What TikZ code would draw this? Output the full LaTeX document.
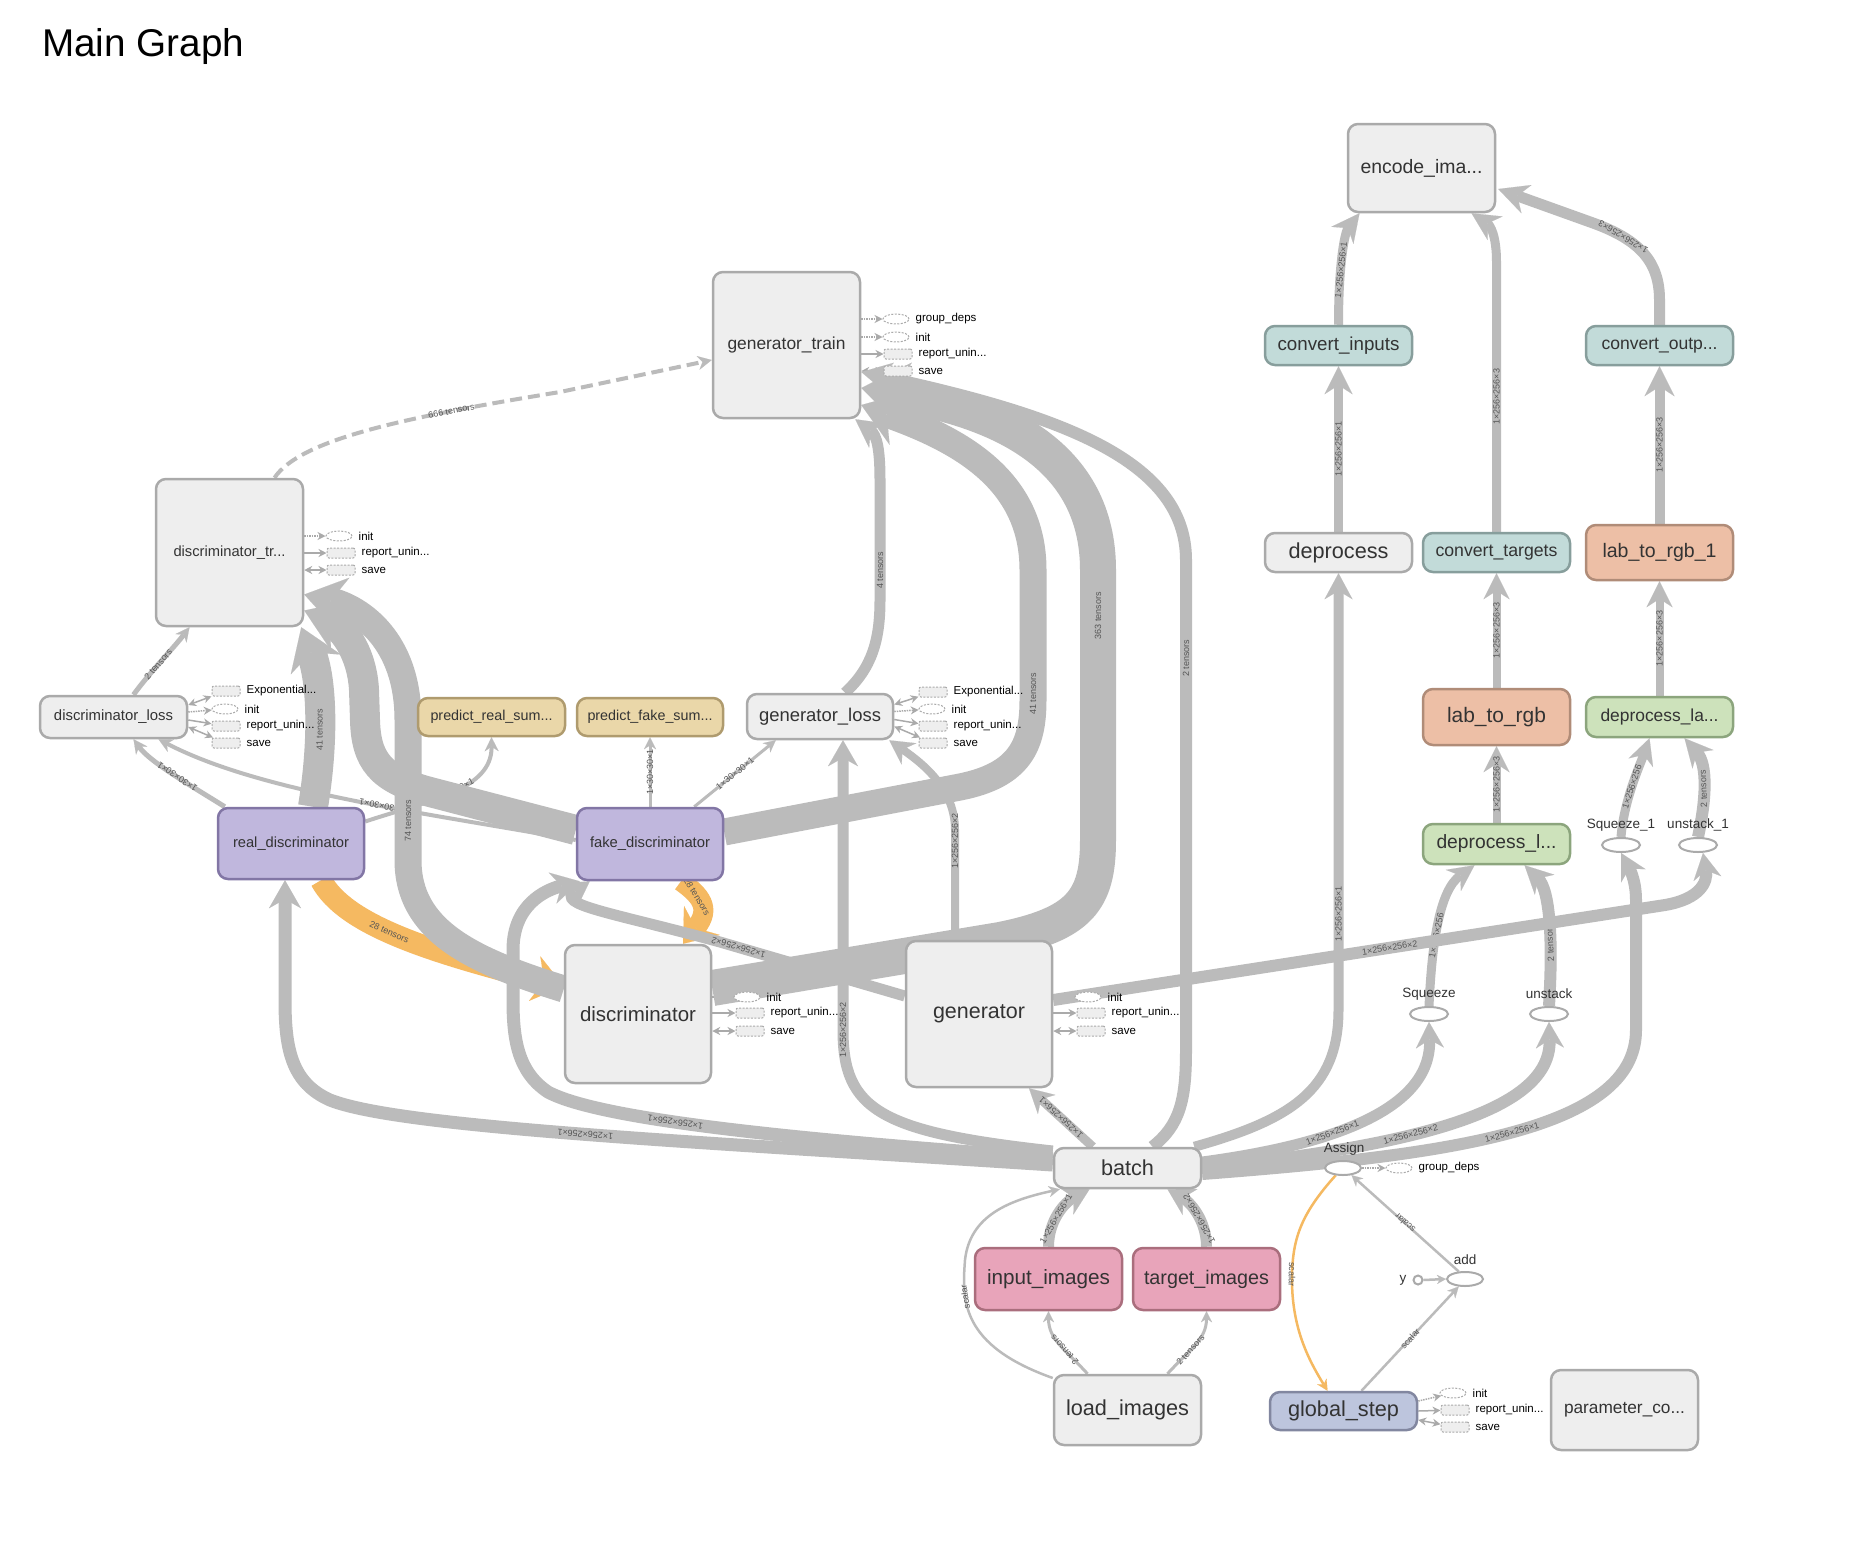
\documentclass[tikz,border=0pt]{standalone}
\usepackage{fontspec}
\setmainfont{Liberation Sans}
\usepackage{graphicx}
\usetikzlibrary{arrows.meta,shapes.geometric,calc}
\pgfdeclarelayer{bgzero}
\pgfdeclarelayer{edges}
\pgfsetlayers{bgzero,edges,main}
\definecolor{gfill}{HTML}{EEEEEE}
\definecolor{gdraw}{HTML}{AAAAAA}
\definecolor{tfill}{HTML}{C2DBD9}
\definecolor{tdraw}{HTML}{879E9C}
\definecolor{sfill}{HTML}{EDBFA6}
\definecolor{sdraw}{HTML}{B08C78}
\definecolor{grfill}{HTML}{CDE2BB}
\definecolor{grdraw}{HTML}{8CA57D}
\definecolor{tanfill}{HTML}{EAD7A9}
\definecolor{tandraw}{HTML}{AF9B6E}
\definecolor{pfill}{HTML}{C0B7DD}
\definecolor{pdraw}{HTML}{8276A5}
\definecolor{pkfill}{HTML}{E8A4BA}
\definecolor{pkdraw}{HTML}{AA6E7D}
\definecolor{bfill}{HTML}{BDC5DD}
\definecolor{bdraw}{HTML}{8287A0}
\definecolor{edgec}{HTML}{BBBBBB}
\definecolor{orng}{HTML}{F5B961}
\definecolor{labc}{HTML}{555555}
\definecolor{txt}{HTML}{333333}
\newcommand\fw[2]{\resizebox{#1pt}{!}{#2}}
\newcommand\auxrow[5]{\node[#2] (#1) at (#3,#4) {};\node[auxl] at ($(#1.east)+(6,0)$) {#5};}
\begin{document}
\begin{tikzpicture}[x=1pt,y=-1pt,
 nb/.style={rounded corners=10pt, line width=2.5pt, inner sep=0pt, text=txt},
 gbox/.style={nb, draw=gdraw, fill=gfill},
 tbox/.style={nb, draw=tdraw, fill=tfill},
 sbox/.style={nb, draw=sdraw, fill=sfill},
 grbox/.style={nb, draw=grdraw, fill=grfill},
 tanbox/.style={nb, draw=tandraw, fill=tanfill},
 pbox/.style={nb, draw=pdraw, fill=pfill},
 pkbox/.style={nb, draw=pkdraw, fill=pkfill},
 bbox/.style={nb, draw=bdraw, fill=bfill},
 sz/.style 2 args={minimum width=#1pt, minimum height=#2pt},
 opn/.style={ellipse, draw=gdraw, fill=white, line width=2pt, minimum width=38pt, minimum height=14pt, inner sep=0pt},
 oplab/.style={font=\fontsize{13.5}{14}\selectfont, text=txt},
 ed/.style={draw=edgec, line width=#1},
 ah/.style 2 args={-{Stealth[length=#1pt, width=#2pt, line width=0.1pt]}},
 lab/.style={font=\fontsize{9}{9}\selectfont, text=labc, sloped, allow upside down, inner sep=0.5pt},
 auxr/.style={draw=gdraw, fill=gfill, dash pattern=on 2pt off 1.5pt, line width=1pt, minimum width=28pt, minimum height=10pt, inner sep=0pt, rounded corners=2pt},
 auxe/.style={ellipse, draw=gdraw, fill=white, dash pattern=on 2pt off 1.5pt, line width=1pt, minimum width=26pt, minimum height=10pt, inner sep=0pt},
 auxl/.style={anchor=west, font=\fontsize{11.5}{12}\selectfont, text=black, inner sep=0pt},
 axa/.style={draw=gdraw, line width=1.5pt, -{Stealth[length=8pt, width=8pt]}},
 axd/.style={axa, densely dotted},
 axs/.style={draw=gdraw, line width=1.5pt, {Stealth[length=8pt, width=8pt]}-{Stealth[length=8pt, width=8pt]}},
]
\useasboundingbox (0,0) rectangle (1866,1550);
\begin{pgfonlayer}{bgzero}
\fill[white] (0,0) rectangle (1866,1550);
\end{pgfonlayer}

% title
\node[anchor=base west, inner sep=0pt, text=black] (title) at (42,56) {\fw{202}{Main Graph}};

% ---------- nodes ----------
\node[gbox, sz={147}{88}] (enc) at (1421.5,168) {\fw{122}{encode\_ima...}};
\node[tbox, sz={147}{39}] (cin) at (1338.5,345.5) {\fw{122}{convert\_inputs}};
\node[tbox, sz={147}{39}] (cout) at (1659.5,345.5) {\fw{116}{convert\_outp...}};
\node[gbox, sz={147}{39}] (dep) at (1338.5,552.5) {\fw{100}{deprocess}};
\node[tbox, sz={147}{39}] (ctg) at (1496.5,552.5) {\fw{122}{convert\_targets}};
\node[sbox, sz={147}{55}] (l2r1) at (1659.5,552.5) {\fw{114}{lab\_to\_rgb\_1}};
\node[sbox, sz={147}{56}] (l2r) at (1496.5,717) {\fw{99}{lab\_to\_rgb}};
\node[grbox, sz={147}{40}] (dla) at (1659.5,717) {\fw{118}{deprocess\_la...}};
\node[grbox, sz={147}{40}] (dl) at (1496.5,844) {\fw{120}{deprocess\_l...}};
\node[opn] (sq1) at (1621,845) {}; \node[oplab] at (1621,825) {Squeeze\_1};
\node[opn] (us1) at (1698,845) {}; \node[oplab] at (1698,825) {unstack\_1};
\node[opn] (sq) at (1429,1014) {}; \node[oplab] at (1429,994) {Squeeze};
\node[opn] (us) at (1549,1014) {}; \node[oplab] at (1549,994) {unstack};
\node[gbox, sz={147}{40}] (batch) at (1127.5,1168) {\fw{53}{batch}};
\node[pkbox, sz={147}{62}] (inimg) at (1048.5,1279) {\fw{123}{input\_images}};
\node[pkbox, sz={147}{62}] (tgimg) at (1206.5,1279) {\fw{125}{target\_images}};
\node[gbox, sz={147}{70}] (load) at (1127.5,1410) {\fw{123}{load\_images}};
\node[opn, minimum width=36pt] (assign) at (1343,1168) {}; \node[oplab] at (1344,1149) {Assign};
\node[opn, minimum width=36pt] (add) at (1465,1279) {}; \node[oplab] at (1465,1260) {add};
\node[circle, draw=gdraw, fill=white, line width=2pt, minimum size=9pt, inner sep=0pt] (yc) at (1418,1280) {};
\node[oplab, anchor=east] at (1410,1280) {y};
\node[bbox, sz={147}{38}] (gstep) at (1343.5,1411) {\fw{111}{global\_step}};
\node[gbox, sz={147}{80}] (param) at (1624.5,1410) {\fw{121}{parameter\_co...}};
\node[gbox, sz={147}{147}] (dtr) at (229.5,552.5) {\fw{112}{discriminator\_tr...}};
\node[gbox, sz={147}{42}] (dloss) at (113.5,717) {\fw{119}{discriminator\_loss}};
\node[tanbox, sz={147}{38}] (preal) at (491.5,717) {\fw{122}{predict\_real\_sum...}};
\node[tanbox, sz={146}{38}] (pfake) at (650,717) {\fw{125}{predict\_fake\_sum...}};
\node[pbox, sz={146}{71}] (rdisc) at (291,843.5) {\fw{116}{real\_discriminator}};
\node[pbox, sz={146}{72}] (fdisc) at (650,844) {\fw{120}{fake\_discriminator}};
\node[gbox, sz={146}{45}] (gloss) at (820,716.5) {\fw{122}{generator\_loss}};
\node[gbox, sz={147}{146}] (gtrain) at (786.5,345) {\fw{118}{generator\_train}};
\node[gbox, sz={146}{138}] (disc) at (638,1014) {\fw{116}{discriminator}};
\node[gbox, sz={146}{146}] (gen) at (979,1014) {\fw{92}{generator}};

% ---------- auxiliary nodes ----------
\auxrow{dtr-i}{auxe}{339}{536}{init}
\auxrow{dtr-r}{auxr}{341}{553}{report\_unin...}
\auxrow{dtr-s}{auxr}{341}{570}{save}
\auxrow{dl-e}{auxr}{226}{691}{Exponential...}
\auxrow{dl-i}{auxe}{225}{709}{init}
\auxrow{dl-r}{auxr}{226}{726}{report\_unin...}
\auxrow{dl-s}{auxr}{226}{743}{save}
\auxrow{gl-e}{auxr}{933}{692}{Exponential...}
\auxrow{gl-i}{auxe}{932}{709}{init}
\auxrow{gl-r}{auxr}{933}{726}{report\_unin...}
\auxrow{gl-s}{auxr}{933}{743}{save}
\auxrow{gt-g}{auxe}{896}{319}{group\_deps}
\auxrow{gt-i}{auxe}{896}{337}{init}
\auxrow{gt-r}{auxr}{898}{354}{report\_unin...}
\auxrow{gt-s}{auxr}{898}{371}{save}
\auxrow{di-i}{auxe}{747}{997}{init}
\auxrow{di-r}{auxr}{750}{1013}{report\_unin...}
\auxrow{di-s}{auxr}{750}{1031}{save}
\auxrow{ge-i}{auxe}{1088}{997}{init}
\auxrow{ge-r}{auxr}{1091}{1013}{report\_unin...}
\auxrow{ge-s}{auxr}{1091}{1031}{save}
\auxrow{gs-i}{auxe}{1453}{1393}{init}
\auxrow{gs-r}{auxr}{1455}{1410}{report\_unin...}
\auxrow{gs-s}{auxr}{1455}{1427}{save}
\auxrow{as-g}{auxe}{1399}{1168}{group\_deps}

\begin{pgfonlayer}{edges}
% orange reference edges first (gray bands pass over them)
\draw[draw=orng, line width=22pt, ah={30}{46}] ($(rdisc.south)+(30,0)$) .. controls (345,925) and (430,952) .. ($(disc.west)+(0,-28)$) node[lab,pos=0.45]{28 tensors};
\draw[draw=orng, line width=20pt, ah={30}{46}] ($(fdisc.south)+(31,0)$) .. controls (700,895) and (712,908) .. ($(disc.north)+(45,0)$) node[lab,pos=0.35]{28 tensors};

% aux edges
\draw[axd] (dtr.east |- dtr-i) -- (dtr-i);
\draw[axa] (dtr.east |- dtr-r) -- (dtr-r);
\draw[axs] (dtr.east |- dtr-s) -- (dtr-s);
\draw[axs] ($(dloss.east)+(0,-12)$) -- (dl-e);
\draw[axd] ($(dloss.east)+(0,-5)$) -- (dl-i);
\draw[axa] ($(dloss.east)+(0,3)$) -- (dl-r);
\draw[axs] ($(dloss.east)+(0,10)$) -- (dl-s);
\draw[axs] ($(gloss.east)+(0,-12)$) -- (gl-e);
\draw[axd] ($(gloss.east)+(0,-5)$) -- (gl-i);
\draw[axa] ($(gloss.east)+(0,3)$) -- (gl-r);
\draw[axs] ($(gloss.east)+(0,10)$) -- (gl-s);
\draw[axd] (gtrain.east |- gt-g) -- (gt-g);
\draw[axd] (gtrain.east |- gt-i) -- (gt-i);
\draw[axa] (gtrain.east |- gt-r) -- (gt-r);
\draw[axs] (gtrain.east |- gt-s) -- (gt-s);
\draw[axd] (disc.east |- di-i) -- (di-i);
\draw[axa] (disc.east |- di-r) -- (di-r);
\draw[axs] (disc.east |- di-s) -- (di-s);
\draw[axd] (gen.east |- ge-i) -- (ge-i);
\draw[axa] (gen.east |- ge-r) -- (ge-r);
\draw[axs] (gen.east |- ge-s) -- (ge-s);
\draw[axd] ($(gstep.east)+(0,-10)$) -- (gs-i);
\draw[axa] (gstep.east) -- (gs-r);
\draw[axs] ($(gstep.east)+(0,9)$) -- (gs-s);
\draw[axd] (assign.east) -- (as-g);

% ---------- right column ----------
\draw[ed=9pt, ah={28}{28}] (cin.north) .. controls (1338.5,262) and (1345,232) .. ($(enc.south)+(-62,0)$) node[lab,pos=0.35]{1×256×256×1};
\draw[ed=9pt, ah={28}{28}] (ctg.north) -- (1496.5,262) node[lab,midway]{1×256×256×3} .. controls (1496.5,235) and (1490,225) .. ($(enc.south)+(50,0)$);
\draw[ed=11pt, ah={30}{30}] (cout.north) -- (1659.5,300) .. controls (1659.5,262) and (1640,240) .. (1593,223) node[lab,pos=0.75]{1×256×256×3} -- ($(enc.east)+(2,21)$);
\draw[ed=9pt, ah={28}{28}] (dep.north) -- (cin.south) node[lab,midway]{1×256×256×1};
\draw[ed=10pt, ah={30}{30}] (l2r1.north) -- (cout.south) node[lab,midway]{1×256×256×3};
\draw[ed=8pt, ah={26}{26}] (l2r.north) -- (ctg.south) node[lab,midway]{1×256×256×3};
\draw[ed=8pt, ah={26}{26}] (dla.north) -- (l2r1.south) node[lab,midway]{1×256×256×3};
\draw[ed=8pt, ah={26}{26}] (dl.north) -- (l2r.south) node[lab,midway]{1×256×256×3};
\draw[ed=9pt, ah={26}{26}] (sq1.north) .. controls (1624,800) and (1640,765) .. ($(dla.south)+(-10,0)$) node[lab,pos=0.47]{1×256×256};
\draw[ed=12pt, ah={28}{28}] (us1.north) .. controls (1706,800) and (1708,765) .. ($(dla.south)+(25,0)$) node[lab,pos=0.45]{2 tensors};
\draw[ed=9pt, ah={26}{26}] (sq.north) .. controls (1432,940) and (1440,890) .. ($(dl.south)+(-22,0)$) node[lab,pos=0.4]{1×256×256};
\draw[ed=12pt, ah={28}{28}] (us.north) .. controls (1553,940) and (1550,890) .. ($(dl.south)+(28,0)$) node[lab,pos=0.35]{2 tensors};
\draw[ed=11pt, ah={26}{28}] ($(batch.east)+(0,-6)$) .. controls (1330,1145) and (1432,1110) .. (sq.south) node[lab,pos=0.38]{1×256×256×1};
\draw[ed=12pt, ah={26}{28}] (batch.east) .. controls (1420,1145) and (1552,1110) .. (us.south) node[lab,pos=0.38]{1×256×256×2};
\draw[ed=12pt, ah={26}{28}] ($(batch.east)+(0,6)$) .. controls (1450,1155) and (1636,1130) .. (1636,1030) node[lab,pos=0.5]{1×256×256×1} -- (1636,900) .. controls (1636,878) and (1628,866) .. (sq1.south);
\draw[ed=12pt, ah={26}{28}] ($(gen.east)+(0,-14)$) -- (1665,905) node[lab,pos=0.55]{1×256×256×2} .. controls (1700,899) and (1708,882) .. ($(us1.south)+(5,0)$);
\draw[ed=10pt, ah={26}{28}] ($(batch.north east)+(-8,0)$) .. controls (1290,1120) and (1338.5,1090) .. (1338.5,1010) -- (dep.south) node[lab,pos=0.22]{1×256×256×1};

% ---------- middle ----------
\draw[ed=12pt, ah={30}{32}] ($(batch.north)+(25,0)$) .. controls (1180,1125) and (1186,1100) .. (1186,1050) -- (1186,560) node[lab,pos=0.8]{2 tensors} .. controls (1186,460) and (1060,415) .. ($(gtrain.east)+(0,27)$);
\draw[ed=36pt, ah={46}{66}] ($(disc.east)+(0,-26)$) -- (1000,940) .. controls (1080,924) and (1098,900) .. (1098,840) -- (1098,570) node[lab,pos=0.83]{363 tensors} .. controls (1098,455) and (1000,410) .. ($(gtrain.east)+(0,43)$);
\draw[ed=27pt, ah={40}{56}] ($(fdisc.east)+(0,-12)$) -- (960,787) .. controls (1020,775) and (1033,745) .. (1033,700) -- (1033,570) node[lab,pos=0.05]{41 tensors} .. controls (1033,480) and (960,440) .. ($(gtrain.east)+(0,60)$);
\draw[ed=11pt, ah={28}{30}] ($(gloss.north)+(25,0)$) .. controls (872,668) and (880,640) .. (880,600) -- (880,480) node[lab,pos=0.25]{4 tensors} .. controls (880,450) and (877,435) .. ($(gtrain.south east)+(-6,0)$);
\draw[ed=4pt, dash pattern=on 12pt off 6pt, ah={14}{14}] ($(dtr.north)+(45,0)$) .. controls (300,440) and (400,418) .. (560,392) node[lab,pos=0.75]{666 tensors} -- ($(gtrain.west)+(0,15)$);

% ---------- left ----------
\draw[ed=5pt, ah={14}{14}] ($(dloss.north)+(20,0)$) .. controls (150,672) and (172,650) .. ($(dtr.south)+(-40,0)$) node[lab,pos=0.45]{2 tensors};
\draw[ed=5pt, ah={14}{14}] ($(rdisc.north west)+(8,0)$) .. controls (190,785) and (150,762) .. ($(dloss.south)+(20,0)$) node[lab,pos=0.45]{1×30×30×1};
\draw[ed=4pt, ah={14}{14}] ($(fdisc.west)+(0,-4)$) .. controls (420,812) and (260,792) .. ($(dloss.south)+(45,0)$) node[lab,pos=0.42]{1×30×30×1};
\draw[ed=4pt, ah={14}{14}] ($(rdisc.east)+(0,-22)$) .. controls (430,800) and (492,790) .. (preal.south) node[lab,pos=0.5]{1×30×30×1};
\draw[ed=3pt, ah={12}{12}] (fdisc.north) -- (pfake.south) node[lab,midway]{1×30×30×1};
\draw[ed=3pt, ah={12}{12}] ($(fdisc.north east)+(-30,0)$) -- ($(gloss.south west)+(30,0)$) node[lab,midway]{1×30×30×1};
\draw[ed=30pt, ah={40}{54}] ($(rdisc.north)+(22,0)$) .. controls (324,740) and (322,680) .. ($(dtr.south east)+(-3,0)$) node[lab,pos=0.4]{41 tensors};
\draw[ed=30pt, ah={40}{54}] ($(fdisc.west)+(0,-14)$) -- (430,792) .. controls (380,779) and (366,760) .. (365,720) -- (364,690) .. controls (362,650) and (340,625) .. ($(dtr.east)+(0,58)$);
\draw[ed=27pt, ah={40}{54}] ($(disc.west)+(0,-25)$) .. controls (470,960) and (408,930) .. (408,860) -- (408,720) node[lab,pos=0.28]{74 tensors} .. controls (408,640) and (360,608) .. ($(dtr.east)+(0,42)$);
\draw[ed=13pt, ah={28}{32}] ($(batch.west)+(0,-3)$) .. controls (700,1142) and (400,1128) .. (330,1100) node[lab,pos=0.5]{1×256×256×1} .. controls (292,1083) and (285,1050) .. (285,1000) -- ($(rdisc.south)+(-6,0)$);
\draw[ed=13pt, ah={28}{32}] ($(batch.west)+(0,-10)$) .. controls (800,1140) and (600,1120) .. (548,1092) node[lab,pos=0.6]{1×256×256×1} .. controls (518,1072) and (513,1040) .. (513,1000) -- (513,950) .. controls (513,905) and (545,890) .. ($(fdisc.south west)+(4,0)$);
\draw[ed=11pt, ah={26}{30}] ($(gen.west)+(0,-18)$) -- (720,942) node[lab,pos=0.9]{1×256×256×2} .. controls (610,912) and (555,905) .. ($(fdisc.south west)+(14,0)$);
\draw[ed=9pt, ah={24}{26}] ($(batch.north west)+(40,0)$) -- ($(gen.south)+(50,0)$) node[lab,midway]{1×256×256×1};
\draw[ed=11pt, ah={26}{30}] ($(batch.west)+(0,-17)$) .. controls (880,1132) and (843,1110) .. (843,1030) -- ($(gloss.south)+(23,0)$) node[lab,pos=0.0]{1×256×256×2};
\draw[ed=8pt, ah={24}{26}] ($(gen.north)+(-24,0)$) -- (955,830) node[lab,pos=0.9]{1×256×256×2} .. controls (955,790) and (925,765) .. ($(gloss.south east)+(-5,0)$);

% ---------- bottom ----------
\draw[ed=11pt, ah={26}{30}] (inimg.north) .. controls (1048.5,1220) and (1065,1202) .. ($(batch.south)+(-38,0)$) node[lab,pos=0.4]{1×256×256×1};
\draw[ed=11pt, ah={26}{30}] (tgimg.north) .. controls (1206.5,1220) and (1190,1202) .. ($(batch.south)+(40,0)$) node[lab,pos=0.4]{1×256×256×2};
\draw[ed=3pt, ah={11}{11}] ($(load.north)+(-40,0)$) .. controls (1066,1350) and (1048.5,1340) .. (inimg.south) node[lab,pos=0.4]{2 tensors};
\draw[ed=3pt, ah={11}{11}] ($(load.north)+(40,0)$) .. controls (1189,1350) and (1206.5,1340) .. (tgimg.south) node[lab,pos=0.4]{2 tensors};
\draw[ed=2.5pt, ah={11}{11}] ($(load.west)+(0,-32)$) .. controls (960,1345) and (962,1300) .. (965,1260) node[lab,pos=0.7]{scalar} .. controls (970,1215) and (1010,1200) .. ($(batch.south west)+(7,0)$);
\draw[draw=orng, line width=2.5pt, ah={11}{11}] (assign.225) .. controls (1300,1215) and (1292,1240) .. (1292,1280) node[lab,pos=0.95]{scalar} .. controls (1292,1330) and (1310,1362) .. ($(gstep.north)+(-16,0)$);
\draw[ed=2.5pt, ah={11}{11}] (add.130) -- (assign.-40) node[lab,midway]{scalar};
\draw[ed=2.5pt, ah={11}{11}] ($(gstep.north)+(18,0)$) -- (add.230) node[lab,midway]{scalar};
\draw[ed=2.5pt, ah={9}{9}] (yc.east) -- (add.west);
\end{pgfonlayer}
\end{tikzpicture}
\end{document}
